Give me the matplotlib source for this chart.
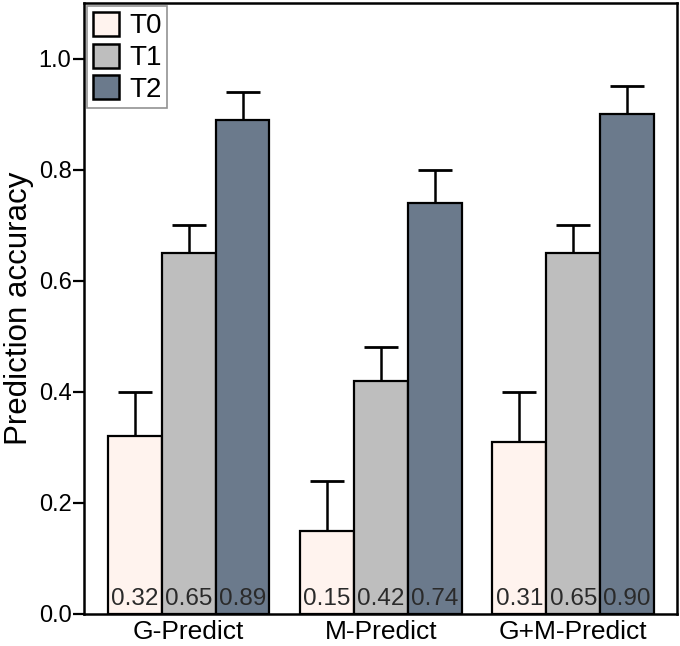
import numpy as np
import matplotlib
matplotlib.use('Agg')
import matplotlib.pyplot as plt

plt.rcParams['font.family'] = ['Liberation Sans', 'DejaVu Sans']

groups = ['G-Predict', 'M-Predict', 'G+M-Predict']
series = ['T0', 'T1', 'T2']
acc = {
    'T0': [0.32, 0.15, 0.31],
    'T1': [0.65, 0.42, 0.65],
    'T2': [0.89, 0.74, 0.90],
}
err = {
    'T0': [0.08, 0.09, 0.09],
    'T1': [0.05, 0.06, 0.05],
    'T2': [0.05, 0.06, 0.05],
}
colors = {'T0': '#fff3ee', 'T1': '#bebebe', 'T2': '#6b7a8c'}

fig = plt.figure(figsize=(6.8, 6.46), dpi=100)
ax = fig.add_axes([84 / 680, 32 / 646, 593 / 680, 611 / 646])

x = np.arange(len(groups))
width = 0.28
for i, s in enumerate(series):
    pos = x + (i - 1) * width
    vals = np.array(acc[s])
    ax.bar(pos, vals, width, color=colors[s], edgecolor='black', linewidth=1.6,
           label=s, zorder=2)
    ax.errorbar(pos, vals, yerr=[np.zeros_like(vals), err[s]], fmt='none',
                ecolor='black', elinewidth=1.8, capsize=12, capthick=2, zorder=1)
    for p, v in zip(pos, vals):
        ax.text(p, 0.008, f'{v:.2f}', ha='center', va='bottom', fontsize=17.5,
                color='#2a2a2a', zorder=3)

ax.set_xlim(-0.545, 2.54)
ax.set_ylim(0, 1.1)
ax.set_yticks(np.arange(0, 1.01, 0.2))
ax.set_yticklabels([f'{t:.1f}' for t in np.arange(0, 1.01, 0.2)])
ax.set_xticks(x)
ax.set_xticklabels(groups)
ax.tick_params(axis='y', labelsize=17, width=1.6, length=8, pad=1)
ax.tick_params(axis='x', labelsize=19, length=0, pad=4)
ax.set_ylabel('Prediction accuracy', fontsize=22.5, labelpad=3)
for sp in ax.spines.values():
    sp.set_linewidth(1.8)

leg = ax.legend(loc='upper left', fontsize=20, frameon=True, fancybox=False,
                edgecolor='#777777', borderaxespad=0.12, handlelength=0.95,
                handleheight=0.95, handletextpad=0.35, labelspacing=0.15,
                borderpad=0.2)
leg.get_frame().set_linewidth(1.2)
for h in leg.legend_handles:
    h.set_linewidth(1.8)

fig.savefig('out.png', dpi=100)
